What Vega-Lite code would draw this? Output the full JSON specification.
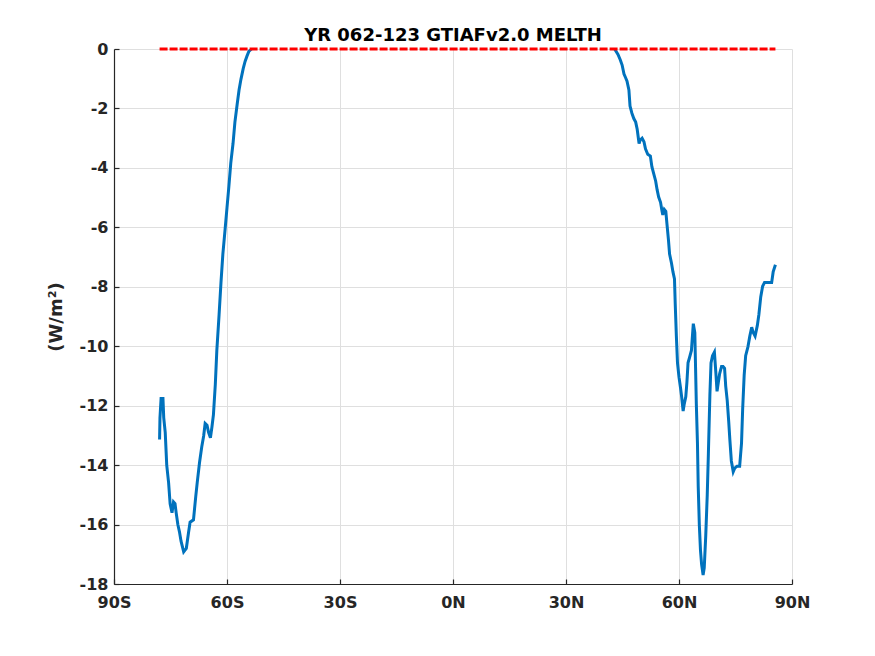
{
  "$schema": "https://vega.github.io/schema/vega-lite/v6.json",
  "autosize": "none",
  "width": 678,
  "height": 535,
  "padding": {"left": 114, "top": 49, "right": 83, "bottom": 72},
  "background": "white",
  "title": {"text": "YR 062-123 GTIAFv2.0 MELTH", "font": "DejaVu Sans", "fontWeight": "bold", "fontSize": 18, "color": "#000000", "offset": -4, "anchor": "middle"},
  "config": {
    "view": {"stroke": null},
    "axis": {"labelFont": "DejaVu Sans", "labelFontWeight": "bold", "labelFontSize": 16, "labelColor": "#262626", "titleFont": "DejaVu Sans", "titleFontWeight": "bold", "titleFontSize": 18, "titleColor": "#262626", "gridColor": "#dfdfdf", "gridWidth": 1, "domainColor": "#262626", "tickColor": "#262626", "domainWidth": 1.2, "tickWidth": 1.2, "labelFlush": false}
  },
  "resolve": {"axis": {"x": "independent", "y": "independent"}},
  "datasets": {
    "curve": [
      {"lat": -77.9, "val": -13.14, "seg": "S"},
      {"lat": -77.8, "val": -12.42, "seg": "S"},
      {"lat": -77.5, "val": -11.76, "seg": "S"},
      {"lat": -77.0, "val": -11.76, "seg": "S"},
      {"lat": -76.8, "val": -12.4, "seg": "S"},
      {"lat": -76.4, "val": -12.9, "seg": "S"},
      {"lat": -76.0, "val": -14.0, "seg": "S"},
      {"lat": -75.5, "val": -14.6, "seg": "S"},
      {"lat": -75.1, "val": -15.3, "seg": "S"},
      {"lat": -74.6, "val": -15.6, "seg": "S"},
      {"lat": -74.2, "val": -15.24, "seg": "S"},
      {"lat": -73.8, "val": -15.3, "seg": "S"},
      {"lat": -73.5, "val": -15.6, "seg": "S"},
      {"lat": -73.05, "val": -16.0, "seg": "S"},
      {"lat": -72.6, "val": -16.26, "seg": "S"},
      {"lat": -72.2, "val": -16.56, "seg": "S"},
      {"lat": -71.5, "val": -16.92, "seg": "S"},
      {"lat": -70.8, "val": -16.8, "seg": "S"},
      {"lat": -70.2, "val": -16.26, "seg": "S"},
      {"lat": -69.8, "val": -15.92, "seg": "S"},
      {"lat": -68.9, "val": -15.84, "seg": "S"},
      {"lat": -68.3, "val": -15.06, "seg": "S"},
      {"lat": -67.9, "val": -14.58, "seg": "S"},
      {"lat": -67.3, "val": -13.92, "seg": "S"},
      {"lat": -66.7, "val": -13.38, "seg": "S"},
      {"lat": -66.2, "val": -13.02, "seg": "S"},
      {"lat": -65.8, "val": -12.6, "seg": "S"},
      {"lat": -65.3, "val": -12.66, "seg": "S"},
      {"lat": -64.9, "val": -12.9, "seg": "S"},
      {"lat": -64.4, "val": -13.08, "seg": "S"},
      {"lat": -64.0, "val": -12.72, "seg": "S"},
      {"lat": -63.6, "val": -12.3, "seg": "S"},
      {"lat": -63.1, "val": -11.28, "seg": "S"},
      {"lat": -62.7, "val": -10.14, "seg": "S"},
      {"lat": -62.1, "val": -8.94, "seg": "S"},
      {"lat": -61.6, "val": -7.86, "seg": "S"},
      {"lat": -61.1, "val": -6.9, "seg": "S"},
      {"lat": -60.5, "val": -6.06, "seg": "S"},
      {"lat": -60.0, "val": -5.34, "seg": "S"},
      {"lat": -59.5, "val": -4.62, "seg": "S"},
      {"lat": -59.0, "val": -3.84, "seg": "S"},
      {"lat": -58.4, "val": -3.18, "seg": "S"},
      {"lat": -57.9, "val": -2.46, "seg": "S"},
      {"lat": -57.3, "val": -1.86, "seg": "S"},
      {"lat": -56.8, "val": -1.38, "seg": "S"},
      {"lat": -56.3, "val": -1.02, "seg": "S"},
      {"lat": -55.7, "val": -0.66, "seg": "S"},
      {"lat": -55.2, "val": -0.42, "seg": "S"},
      {"lat": -54.7, "val": -0.24, "seg": "S"},
      {"lat": -54.2, "val": -0.08, "seg": "S"},
      {"lat": -53.5, "val": 0, "seg": "S"},
      {"lat": 42.9, "val": 0, "seg": "N"},
      {"lat": 43.8, "val": -0.18, "seg": "N"},
      {"lat": 44.4, "val": -0.36, "seg": "N"},
      {"lat": 44.9, "val": -0.54, "seg": "N"},
      {"lat": 45.4, "val": -0.84, "seg": "N"},
      {"lat": 45.8, "val": -0.96, "seg": "N"},
      {"lat": 46.2, "val": -1.08, "seg": "N"},
      {"lat": 46.7, "val": -1.38, "seg": "N"},
      {"lat": 47.0, "val": -1.92, "seg": "N"},
      {"lat": 47.5, "val": -2.16, "seg": "N"},
      {"lat": 48.0, "val": -2.34, "seg": "N"},
      {"lat": 48.5, "val": -2.46, "seg": "N"},
      {"lat": 48.9, "val": -2.7, "seg": "N"},
      {"lat": 49.4, "val": -3.18, "seg": "N"},
      {"lat": 49.7, "val": -3.06, "seg": "N"},
      {"lat": 50.2, "val": -3.0, "seg": "N"},
      {"lat": 50.7, "val": -3.12, "seg": "N"},
      {"lat": 51.1, "val": -3.36, "seg": "N"},
      {"lat": 51.7, "val": -3.54, "seg": "N"},
      {"lat": 52.4, "val": -3.6, "seg": "N"},
      {"lat": 52.8, "val": -3.96, "seg": "N"},
      {"lat": 53.3, "val": -4.2, "seg": "N"},
      {"lat": 53.8, "val": -4.44, "seg": "N"},
      {"lat": 54.2, "val": -4.74, "seg": "N"},
      {"lat": 54.6, "val": -4.98, "seg": "N"},
      {"lat": 55.1, "val": -5.16, "seg": "N"},
      {"lat": 55.5, "val": -5.46, "seg": "N"},
      {"lat": 55.7, "val": -5.58, "seg": "N"},
      {"lat": 56.1, "val": -5.4, "seg": "N"},
      {"lat": 56.5, "val": -5.46, "seg": "N"},
      {"lat": 56.8, "val": -5.88, "seg": "N"},
      {"lat": 57.2, "val": -6.42, "seg": "N"},
      {"lat": 57.5, "val": -6.9, "seg": "N"},
      {"lat": 58.0, "val": -7.2, "seg": "N"},
      {"lat": 58.4, "val": -7.5, "seg": "N"},
      {"lat": 58.8, "val": -7.74, "seg": "N"},
      {"lat": 59.0, "val": -8.58, "seg": "N"},
      {"lat": 59.3, "val": -9.66, "seg": "N"},
      {"lat": 59.6, "val": -10.56, "seg": "N"},
      {"lat": 60.0, "val": -11.04, "seg": "N"},
      {"lat": 60.4, "val": -11.4, "seg": "N"},
      {"lat": 60.7, "val": -11.7, "seg": "N"},
      {"lat": 61.1, "val": -12.18, "seg": "N"},
      {"lat": 61.4, "val": -11.94, "seg": "N"},
      {"lat": 61.8, "val": -11.7, "seg": "N"},
      {"lat": 62.1, "val": -11.22, "seg": "N"},
      {"lat": 62.4, "val": -10.56, "seg": "N"},
      {"lat": 62.8, "val": -10.38, "seg": "N"},
      {"lat": 63.3, "val": -10.14, "seg": "N"},
      {"lat": 63.5, "val": -9.78, "seg": "N"},
      {"lat": 63.8, "val": -9.24, "seg": "N"},
      {"lat": 64.2, "val": -9.54, "seg": "N"},
      {"lat": 64.4, "val": -10.74, "seg": "N"},
      {"lat": 64.6, "val": -11.94, "seg": "N"},
      {"lat": 64.9, "val": -13.26, "seg": "N"},
      {"lat": 65.1, "val": -14.7, "seg": "N"},
      {"lat": 65.4, "val": -16.02, "seg": "N"},
      {"lat": 65.7, "val": -16.86, "seg": "N"},
      {"lat": 66.0, "val": -17.34, "seg": "N"},
      {"lat": 66.4, "val": -17.7, "seg": "N"},
      {"lat": 66.7, "val": -17.46, "seg": "N"},
      {"lat": 67.1, "val": -16.38, "seg": "N"},
      {"lat": 67.5, "val": -15.0, "seg": "N"},
      {"lat": 67.8, "val": -13.62, "seg": "N"},
      {"lat": 68.2, "val": -11.64, "seg": "N"},
      {"lat": 68.5, "val": -10.56, "seg": "N"},
      {"lat": 68.9, "val": -10.32, "seg": "N"},
      {"lat": 69.4, "val": -10.2, "seg": "N"},
      {"lat": 69.8, "val": -10.92, "seg": "N"},
      {"lat": 70.1, "val": -11.52, "seg": "N"},
      {"lat": 70.5, "val": -11.16, "seg": "N"},
      {"lat": 70.8, "val": -10.92, "seg": "N"},
      {"lat": 71.3, "val": -10.68, "seg": "N"},
      {"lat": 71.7, "val": -10.68, "seg": "N"},
      {"lat": 72.1, "val": -10.74, "seg": "N"},
      {"lat": 72.4, "val": -11.34, "seg": "N"},
      {"lat": 72.8, "val": -11.82, "seg": "N"},
      {"lat": 73.2, "val": -12.54, "seg": "N"},
      {"lat": 73.5, "val": -13.14, "seg": "N"},
      {"lat": 73.9, "val": -13.86, "seg": "N"},
      {"lat": 74.4, "val": -14.22, "seg": "N"},
      {"lat": 74.8, "val": -14.1, "seg": "N"},
      {"lat": 75.4, "val": -14.04, "seg": "N"},
      {"lat": 76.1, "val": -14.04, "seg": "N"},
      {"lat": 76.6, "val": -13.26, "seg": "N"},
      {"lat": 76.9, "val": -12.12, "seg": "N"},
      {"lat": 77.3, "val": -10.98, "seg": "N"},
      {"lat": 77.7, "val": -10.32, "seg": "N"},
      {"lat": 78.3, "val": -10.02, "seg": "N"},
      {"lat": 78.8, "val": -9.66, "seg": "N"},
      {"lat": 79.3, "val": -9.36, "seg": "N"},
      {"lat": 79.7, "val": -9.54, "seg": "N"},
      {"lat": 80.2, "val": -9.66, "seg": "N"},
      {"lat": 80.8, "val": -9.3, "seg": "N"},
      {"lat": 81.2, "val": -8.94, "seg": "N"},
      {"lat": 81.7, "val": -8.34, "seg": "N"},
      {"lat": 82.2, "val": -7.98, "seg": "N"},
      {"lat": 82.7, "val": -7.86, "seg": "N"},
      {"lat": 83.7, "val": -7.86, "seg": "N"},
      {"lat": 84.6, "val": -7.86, "seg": "N"},
      {"lat": 85.0, "val": -7.5, "seg": "N"},
      {"lat": 85.6, "val": -7.26, "seg": "N"}
    ],
    "zero": [
      {"lat": -77.9, "val": 0},
      {"lat": 85.6, "val": 0}
    ]
  },
  "layer": [
    {
      "data": {"name": "curve"},
      "mark": {"type": "line", "color": "#0072BD", "strokeWidth": 3, "clip": true},
      "encoding": {
        "x": {"field": "lat", "type": "quantitative", "scale": {"domain": [-90, 90], "nice": false, "zero": false},
          "axis": {"orient": "bottom", "values": [-90, -60, -30, 0, 30, 60, 90], "title": null, "grid": true, "ticks": false, "labelPadding": 10, "labelExpr": "datum.value < 0 ? (-datum.value) + 'S' : datum.value + 'N'"}},
        "y": {"field": "val", "type": "quantitative", "scale": {"domain": [-18, 0], "nice": false, "zero": false},
          "axis": {"orient": "left", "values": [-18, -16, -14, -12, -10, -8, -6, -4, -2, 0], "title": "(W/m²)", "titlePadding": 14, "grid": true, "ticks": false, "labelPadding": 6, "labelExpr": "datum.value + ''"}},
        "detail": {"field": "seg", "type": "nominal"},
        "order": {"field": "lat", "type": "quantitative"}
      }
    },
    {
      "data": {"name": "zero"},
      "mark": {"type": "line", "color": "#FF0000", "strokeWidth": 3, "strokeDash": [8, 2]},
      "encoding": {
        "x": {"field": "lat", "type": "quantitative",
          "axis": {"orient": "bottom", "values": [-90, -60, -30, 0, 30, 60, 90], "title": null, "grid": false, "labels": false, "domain": false, "ticks": true, "tickSize": 5, "offset": -5}},
        "y": {"field": "val", "type": "quantitative",
          "axis": {"orient": "left", "values": [-18, -16, -14, -12, -10, -8, -6, -4, -2, 0], "title": null, "grid": false, "labels": false, "domain": false, "ticks": true, "tickSize": 5, "offset": -5}}
      }
    }
  ]
}
